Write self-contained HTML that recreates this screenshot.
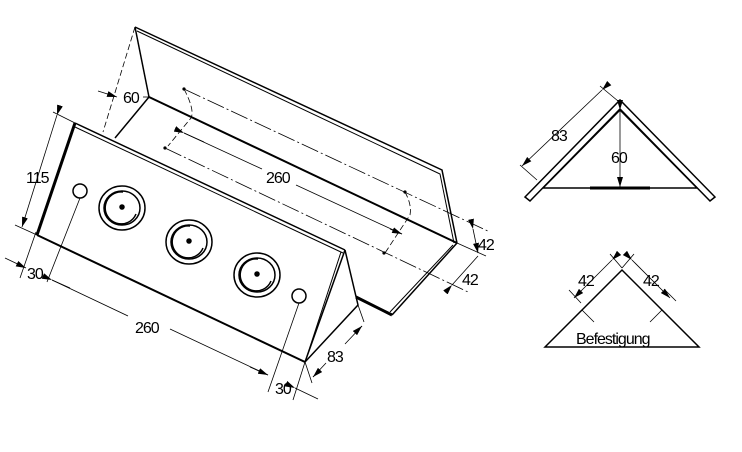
<!DOCTYPE html>
<html><head><style>
html,body{margin:0;padding:0;background:#fff;}
svg{display:block}
text{font-family:"Liberation Sans",sans-serif;font-size:16px;fill:#000;letter-spacing:-1px;}
</style></head><body>
<svg width="742" height="452" viewBox="0 0 742 452" xmlns="http://www.w3.org/2000/svg">
<defs>
<marker id="a" markerWidth="10" markerHeight="6" refX="10" refY="3" orient="auto" markerUnits="userSpaceOnUse"><path d="M0,0 L10,3 L0,6z" fill="#000"/></marker>
</defs>
<g fill="none" stroke="#000">
<path d="M135,27 L442,170 L457,243" stroke-width="1.5"/>
<path d="M137,31 L440,174 L454,243" stroke-width="1"/>
<path d="M135,27 L149,97" stroke-width="1.5"/>
<path d="M149,97 L457,243" stroke-width="2"/>
<path d="M149,97 L115,138" stroke-width="1.5"/>
<path d="M457,243 L392,315" stroke-width="1.5"/>
<path d="M453,245 L390,312" stroke-width="1"/>
<path d="M356,297 L392,315" stroke-width="3"/>
<path d="M75,123 L345,250" stroke-width="1.5"/>
<path d="M75,127 L343,253" stroke-width="1"/>
<path d="M75,123 L37,235" stroke-width="3"/>
<path d="M37,235 L305,362" stroke-width="2"/>
<path d="M345,250 L305,362" stroke-width="1.5"/>
<path d="M341,252 L307,356" stroke-width="1"/>
<path d="M345,250 L358,305 L305,362" stroke-width="1.5"/>
<circle cx="80" cy="191" r="7" stroke-width="1.5"/>
<circle cx="299" cy="296" r="7" stroke-width="1.5"/>
<g stroke-width="1.5">
<ellipse cx="122" cy="208" rx="23" ry="22"/><ellipse cx="122" cy="208" rx="18" ry="17"/>
<path d="M123,192 A16,16 0 1,0 136,214"/><circle cx="122" cy="207" r="2" fill="#000"/>
<ellipse cx="189" cy="242" rx="23" ry="22"/><ellipse cx="189" cy="242" rx="18" ry="17"/>
<path d="M190,226 A16,16 0 1,0 203,248"/><circle cx="189" cy="241" r="2" fill="#000"/>
<ellipse cx="257" cy="275" rx="23" ry="22"/><ellipse cx="257" cy="275" rx="18" ry="17"/>
<path d="M258,259 A16,16 0 1,0 271,281"/><circle cx="257" cy="274" r="2" fill="#000"/>
</g>
<g stroke-width="0.8">
<path d="M53,112 L75,123 M15,225 L37,235"/>
<path d="M57,115 L22,227" marker-start="url(#a)" marker-end="url(#a)"/>
<path d="M36,232 L20,278 M80,198 L47,282"/>
<path d="M5,258 L26,268" marker-end="url(#a)"/>
<path d="M299,303 L268,392 M305,362 L293,400"/>
<path d="M52,280 L128,316 M170,329 L268,375" />
<path d="M52,280 L70,288" marker-start="url(#a)"/>
<path d="M250,367 L268,375" marker-end="url(#a)"/>
<path d="M295,388 L318,399" marker-start="url(#a)"/>
<path d="M358,305 L364,322 M305,362 L312,383"/>
<path d="M313,377 L326,363 M345,344 L362,326"/>
<path d="M320,370 L313,377" marker-end="url(#a)"/><path d="M356,332 L362,326" marker-end="url(#a)"/>
<path d="M135,27 L103,132" stroke-dasharray="6,3"/>
<path d="M98,91 L117,97" marker-end="url(#a)"/>
<path d="M143,97 L149,97"/>
<path d="M184,89 Q195,110 191,118 L168,146" stroke-dasharray="6,3"/>
<path d="M405,192 Q412,205 410,215 L385,253" stroke-dasharray="6,3"/>
<circle cx="184" cy="89" r="1.2" fill="#000"/><circle cx="165" cy="148" r="1.2" fill="#000"/>
<circle cx="405" cy="192" r="1.2" fill="#000"/><circle cx="384" cy="253" r="1.2" fill="#000"/>
<path d="M184,89 L490,232 M165,148 L468,292" stroke-dasharray="18,3,2,3"/>
<path d="M184,133 L262,169 M296,185 L402,234"/>
<path d="M184,133 L204,142" marker-start="url(#a)"/><path d="M390,229 L402,234" marker-end="url(#a)"/>
<path d="M457,243 L486,256"/>
<path d="M473,229 L478,253" marker-start="url(#a)" marker-end="url(#a)"/>
<path d="M452,285 L478,256" marker-start="url(#a)"/>
</g>
<path d="M525,197 L620,100 L715,197 L710,201 L620,109 L530,201 Z" stroke-width="1.5"/>
<path d="M543,188 L620,110 L697,188 Z" stroke-width="1.5"/>
<path d="M590,188 L650,188" stroke-width="3"/>
<g stroke-width="0.8">
<path d="M600,86 L618,101 M520,165 L537,180"/>
<path d="M602,90 L522,166" marker-start="url(#a)" marker-end="url(#a)"/>
<path d="M620,110 L620,187" marker-start="url(#a)" marker-end="url(#a)"/>
</g>
<path d="M545,347 L622,270 L699,347 Z" stroke-width="1.5"/>
<g stroke-width="0.8">
<path d="M610,254 L622,268 M569,290 L581,303 M634,254 L622,268 M664,289 L676,301"/>
<path d="M582,310 L594,322 M662,310 L650,322"/>
<path d="M612,260 L574,298" marker-start="url(#a)" marker-end="url(#a)"/>
<path d="M632,260 L670,298" marker-start="url(#a)" marker-end="url(#a)"/>
</g>
</g>
<g>
<text x="26" y="183">115</text>
<text x="27" y="279">30</text>
<text x="135" y="333">260</text>
<text x="275" y="394">30</text>
<text x="327" y="362">83</text>
<text x="123" y="103">60</text>
<text x="266" y="183">260</text>
<text x="478" y="250">42</text>
<text x="462" y="285">42</text>
<text x="551" y="141">83</text>
<text x="611" y="163">60</text>
<text x="578" y="286">42</text>
<text x="643" y="286">42</text>
<text x="576" y="344">Befestigung</text>
</g>
</svg>
</body></html>
